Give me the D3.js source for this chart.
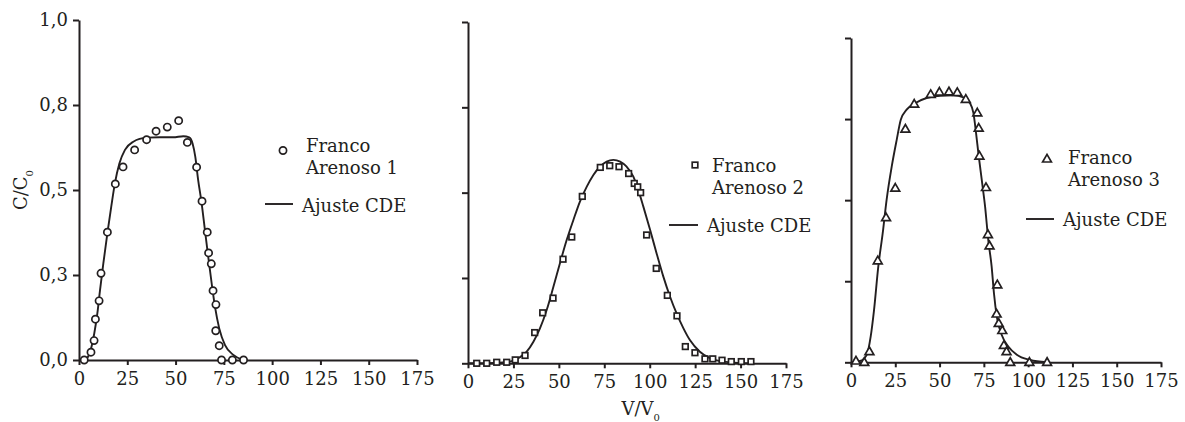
<!DOCTYPE html>
<html>
<head>
<meta charset="utf-8">
<script src="https://cdn.jsdelivr.net/npm/d3@7"></script>
<style>
  body { margin: 0; background: #fff; }
  svg { display: block; }
</style>
</head>
<body>
<div id="chart"></div>
<script>
const obs1 = [[2.7,0],[6.2,0.023],[7.8,0.057],[8.5,0.12],[10.4,0.174],[11.4,0.255],[14.7,0.376],
  [18.8,0.518],[22.8,0.568],[28.8,0.618],[35.0,0.648],[39.9,0.673],[45.7,0.685],[51.6,0.704],
  [56.1,0.64],[60.9,0.567],[63.7,0.467],[66.4,0.376],[67.1,0.315],[68.5,0.283],[69.4,0.204],
  [70.9,0.163],[70.8,0.086],[72.6,0.042],[73.8,0],[79.4,0],[85.2,0]];
const fit1 = [[0.5,0],[4.0,0.005],[6.0,0.029],[7.9,0.078],[9.5,0.137],[10.9,0.206],[12.6,0.284],
  [14.7,0.373],[16.7,0.451],[18.6,0.52],[20.9,0.578],[23.8,0.618],[28.1,0.642],[35.0,0.654],
  [41.9,0.655],[48.8,0.655],[54.0,0.658],[57.1,0.655],[58.8,0.637],[60.2,0.598],[61.7,0.529],
  [63.5,0.461],[65.2,0.382],[66.9,0.304],[68.7,0.225],[70.4,0.157],[72.6,0.093],[75.6,0.044],
  [79.9,0.015],[85.0,0]];

const obs2 = [[4.8,0],[10.3,0],[15.8,0.003],[21.3,0.003],[26.0,0.01],[31.4,0.023],[36.7,0.09],
  [41.1,0.148],[46.8,0.191],[52.3,0.305],[57.1,0.37],[62.9,0.489],[72.8,0.574],[78.0,0.579],
  [83.1,0.576],[88.4,0.556],[91.5,0.527],[93.4,0.517],[95.0,0.5],[98.3,0.376],[103.6,0.278],
  [109.7,0.199],[115.0,0.139],[119.6,0.049],[124.9,0.031],[130.4,0.013],[134.7,0.013],
  [139.8,0.009],[144.9,0.005],[150.4,0.005],[155.7,0.005]];
const fit2 = [[0,0],[17.6,0.002],[25.0,0.008],[28.6,0.018],[32.3,0.034],[36.0,0.063],[39.6,0.102],
  [43.3,0.156],[47.0,0.224],[50.6,0.293],[54.3,0.361],[58.0,0.42],[61.6,0.474],[65.3,0.517],
  [69.0,0.552],[72.6,0.576],[76.3,0.591],[80.0,0.596],[83.7,0.591],[87.3,0.576],[91.0,0.547],
  [93.7,0.508],[96.5,0.459],[100.2,0.391],[103.8,0.322],[107.5,0.254],[111.2,0.195],
  [114.8,0.146],[118.5,0.103],[122.1,0.068],[127.6,0.034],[133.1,0.015],[140.4,0.005],[155.1,0]];

const obs3 = [[2.8,0.004],[7.5,0],[10.4,0.033],[15.1,0.313],[19.8,0.446],[25.0,0.537],[30.7,0.719],
  [35.7,0.796],[45.0,0.826],[49.9,0.833],[55.3,0.834],[60.0,0.832],[64.8,0.811],[71.3,0.769],
  [72.1,0.722],[72.5,0.636],[76.2,0.539],[77.3,0.394],[78.2,0.359],[82.6,0.239],[82.2,0.149],
  [83.4,0.12],[85.4,0.098],[86.3,0.052],[87.8,0.033],[89.9,0],[100.7,0],[110.7,0]];
const fit3 = [[0,0],[5.1,0.004],[8.9,0.023],[11.1,0.079],[13.0,0.161],[15.4,0.295],[17.9,0.398],
  [20.1,0.501],[23.0,0.604],[25.8,0.686],[28.1,0.748],[31.4,0.779],[36.1,0.799],[42.7,0.815],
  [50.3,0.822],[57.8,0.823],[63.5,0.817],[67.2,0.799],[69.1,0.769],[70.6,0.707],[71.9,0.645],
  [73.8,0.563],[75.7,0.48],[77.5,0.377],[79.4,0.295],[80.7,0.213],[82.3,0.141],[85.1,0.084],
  [88.9,0.048],[93.6,0.023],[101.1,0.007],[110.5,0]];

const xTicks = [0, 25, 50, 75, 100, 125, 150, 175];
const yTicks = [0, 0.25, 0.5, 0.75, 1];
const yTickLabels = ["0,0", "0,3", "0,5", "0,8", "1,0"];
const seriesNames = [["Franco", "Arenoso 1"], ["Franco", "Arenoso 2"], ["Franco", "Arenoso 3"]];
const fitName = "Ajuste CDE";

const ink = "#231f20";
const font = "'DejaVu Serif', serif";
const fontSize = 18;

const panels = [
  {obs: obs1, fit: fit1, marker: "circle", xr: [79, 417], yr: [360, 20], yLabels: true,
   leg: {mx: 283, my: 150.5, tx: 306, ty: 152, lx: [265, 293], ly: 204, fx: 302, fy: 212}},
  {obs: obs2, fit: fit2, marker: "square", xr: [468, 786], yr: [363.3, 22], yLabels: false,
   leg: {mx: 695, my: 165, tx: 712, ty: 172, lx: [669, 698], ly: 225, fx: 707, fy: 232}},
  {obs: obs3, fit: fit3, marker: "triangle", xr: [851, 1161], yr: [362.3, 38], yLabels: false,
   leg: {mx: 1047, my: 159, tx: 1068, ty: 164, lx: [1026, 1054], ly: 219, fx: 1063, fy: 226}}
];

const svg = d3.select("#chart").append("svg")
  .attr("width", 1185).attr("height", 422)
  .style("font-family", font);

function drawMarker(sel, type) {
  if (type === "circle") {
    sel.append("circle").attr("r", 3.6);
  } else if (type === "square") {
    sel.append("rect").attr("x", -2.8).attr("y", -2.8).attr("width", 5.6).attr("height", 5.6);
  } else {
    sel.append("path").attr("d", "M0,-4.6L4.4,3L-4.4,3Z");
  }
  sel.selectAll("*").attr("fill", "#fff").attr("stroke", ink).attr("stroke-width", 1.7);
}

panels.forEach((p, i) => {
  const x = d3.scaleLinear().domain([0, 175]).range(p.xr);
  const y = d3.scaleLinear().domain([0, 1]).range(p.yr);
  const g = svg.append("g");

  // axes
  const yAxis = d3.axisLeft(y).tickValues(yTicks).tickSizeInner(6).tickSizeOuter(0)
    .tickFormat((d, k) => p.yLabels ? yTickLabels[k] : "");
  const yG = g.append("g").attr("transform", `translate(${p.xr[0]},0)`).call(yAxis);
  const xAxis = d3.axisBottom(x).tickValues(xTicks).tickSizeInner(5).tickSizeOuter(0).tickPadding(7);
  const xG = g.append("g").attr("transform", `translate(0,${p.yr[0]})`).call(xAxis);

  [xG, yG].forEach(a => {
    a.select(".domain").attr("stroke", ink).attr("stroke-width", 2);
    a.selectAll(".tick line").attr("stroke", ink).attr("stroke-width", 2);
    a.selectAll(".tick text").attr("fill", ink).style("font-family", font).style("font-size", fontSize + "px");
  });
  yG.selectAll(".tick text").attr("x", -11);

  // fitted curve
  g.append("path")
    .datum(p.fit)
    .attr("fill", "none").attr("stroke", ink).attr("stroke-width", 1.9)
    .attr("d", d3.line().x(d => x(d[0])).y(d => y(d[1])).curve(d3.curveMonotoneX));

  // observed points
  g.selectAll(".pt").data(p.obs).join("g")
    .attr("class", "pt")
    .attr("transform", d => `translate(${x(d[0])},${y(d[1])})`)
    .each(function () { drawMarker(d3.select(this), p.marker); });

  // legend
  const L = p.leg;
  drawMarker(g.append("g").attr("transform", `translate(${L.mx},${L.my})`), p.marker);
  const t = g.append("text").attr("fill", ink).style("font-size", fontSize + "px");
  t.append("tspan").attr("x", L.tx).attr("y", L.ty).text(seriesNames[i][0]);
  t.append("tspan").attr("x", L.tx).attr("y", L.ty + 22).text(seriesNames[i][1]);
  g.append("line").attr("x1", L.lx[0]).attr("x2", L.lx[1]).attr("y1", L.ly).attr("y2", L.ly)
    .attr("stroke", ink).attr("stroke-width", 1.9);
  g.append("text").attr("x", L.fx).attr("y", L.fy).attr("fill", ink)
    .style("font-size", fontSize + "px").text(fitName);

  if (i === 0) {
    const yl = g.append("text").attr("fill", ink).style("font-size", fontSize + "px")
      .attr("text-anchor", "middle")
      .attr("transform", `translate(27,${(p.yr[0] + p.yr[1]) / 2}) rotate(-90)`);
    yl.append("tspan").text("C/C");
    yl.append("tspan").attr("baseline-shift", "sub").style("font-size", "10px").text("0");
  }
  if (i === 1) {
    const xl = g.append("text").attr("fill", ink).style("font-size", fontSize + "px")
      .attr("text-anchor", "middle")
      .attr("x", x(95)).attr("y", 415);
    xl.append("tspan").text("V/V");
    xl.append("tspan").attr("baseline-shift", "sub").style("font-size", "10px").text("0");
  }
});
</script>
</body>
</html>
